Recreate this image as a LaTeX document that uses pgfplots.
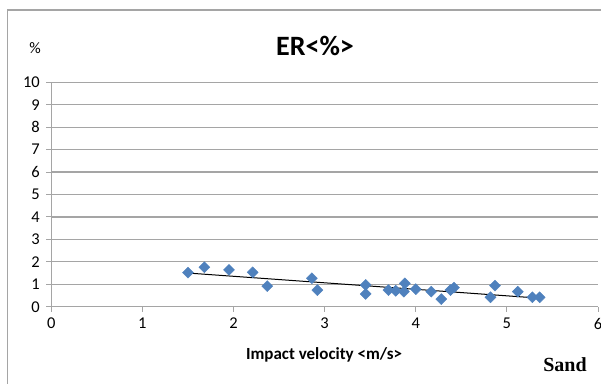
\documentclass[border=0pt]{standalone}
\usepackage{pgfplots}
\pgfplotsset{compat=1.18}
\usepackage{fontspec}
\setmainfont{Carlito}
\newfontfamily\timesfont{Liberation Serif}
\definecolor{mblue}{RGB}{79,129,189}
\definecolor{gridc}{RGB}{165,165,165}
\begin{document}
\begin{tikzpicture}[x=1pt,y=1pt]
\draw[gridc, line width=1.5pt] (7.5,-5) -- (7.5,373) -- (610,373);
\begin{axis}[
  at={(51.3pt,76.3pt)}, anchor=south west, scale only axis,
  width=546.7pt, height=224.4pt,
  xmin=0, xmax=6, ymin=0, ymax=10,
  xtick={0,1,2,3,4,5,6}, ytick={0,1,2,3,4,5,6,7,8,9,10},
  axis lines*=left,
  axis line style={gridc, line width=1.2pt},
  ymajorgrids, grid style={gridc, line width=1.2pt},
  tick style={gridc, line width=1pt}, tick align=outside, major tick length=5pt,
  ticklabel style={font=\fontsize{16.5}{16.5}\selectfont},
  xticklabel style={yshift=-3pt},
  yticklabel style={xshift=-3pt},
  /pgf/number format/assume math mode=true,
  clip=false,
]
\addplot[only marks, mark=square*, mark size=3.9pt, mark options={rotate=45, fill=mblue, draw=mblue}] coordinates {
(1.50,1.52) (1.68,1.76) (1.95,1.64) (2.21,1.53) (2.37,0.92)
(2.86,1.27) (2.92,0.74) (3.45,0.97) (3.45,0.57) (3.70,0.74)
(3.78,0.71) (3.88,1.04) (3.87,0.67) (4.00,0.78) (4.17,0.67)
(4.28,0.34) (4.38,0.74) (4.42,0.85) (4.82,0.42) (4.87,0.94)
(5.12,0.67) (5.28,0.42) (5.36,0.42)
};
\addplot[black, line width=1pt] coordinates {(1.50,1.50) (5.36,0.38)};
\end{axis}
\node at (315,337) {\fontsize{28}{28}\selectfont\bfseries ER<\%>};
\node at (35,335) {\fontsize{16}{16}\selectfont \%};
\node at (324,28) {\fontsize{17}{17}\selectfont\bfseries Impact velocity <m/s>};
\node at (565,18) {\timesfont\bfseries\fontsize{20}{20}\selectfont Sand};
\pgfresetboundingbox
\path[use as bounding box] (0,0) rectangle (601,383);
\end{tikzpicture}
\end{document}
